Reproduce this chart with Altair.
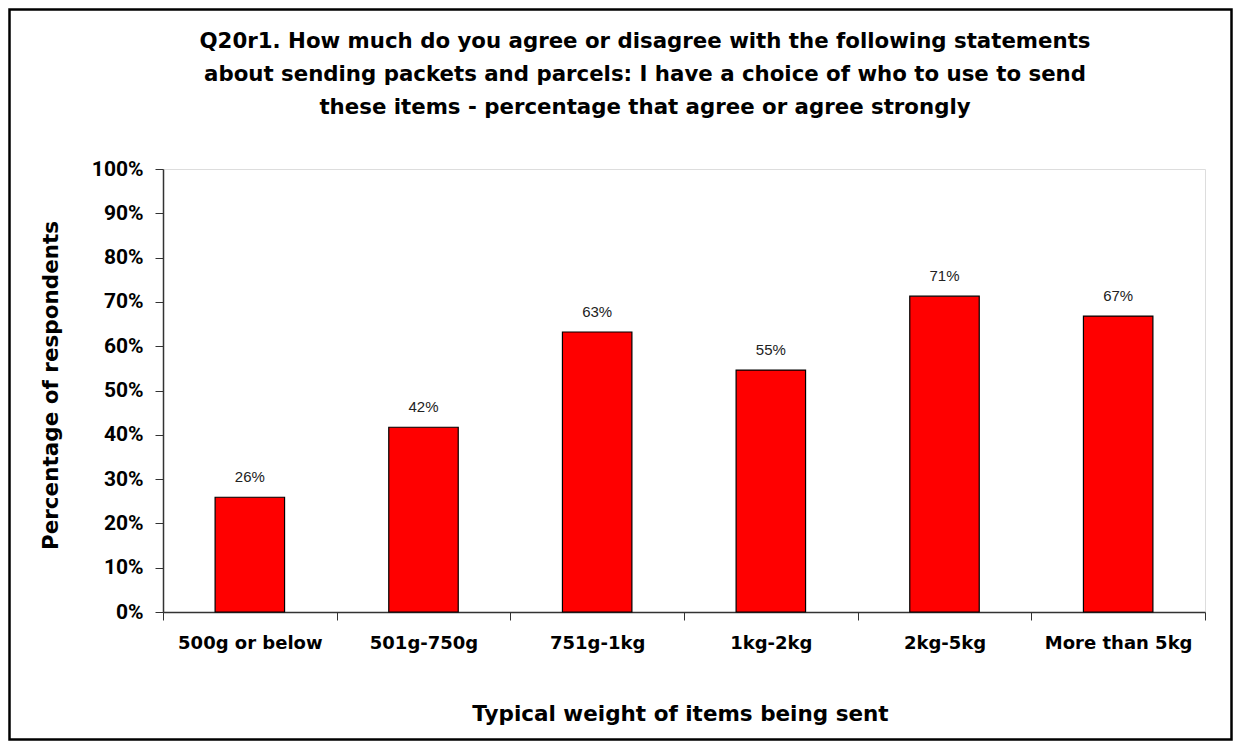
import altair as alt
import pandas as pd

categories = ["500g or below", "501g-750g", "751g-1kg", "1kg-2kg", "2kg-5kg", "More than 5kg"]
values = [0.259, 0.417, 0.632, 0.546, 0.713, 0.668]

df = pd.DataFrame({"cat": categories, "val": values})

W, H = 1042, 443
PL, PT, PR, PB = 155, 161, 28, 129
BOLD = "DejaVu Sans"

base = alt.Chart(df)

x_enc = alt.X(
    "cat:N", sort=categories, scale=alt.Scale(paddingInner=0, paddingOuter=0),
    axis=alt.Axis(
        title="Typical weight of items being sent", labelAngle=0,
        labelFont=BOLD, labelFontWeight="bold", labelFontSize=18, labelColor="#000",
        labelPadding=14, tickBand="extent", tickSize=8, tickColor="#333",
        domainColor="#333", domainWidth=1.5,
        titleFont=BOLD, titleFontWeight="bold", titleFontSize=21.5, titleColor="#000",
        titleX=517, titleAlign="center", titleY=102, titleBaseline="middle",
    ),
)
y_enc = alt.Y(
    "val:Q", scale=alt.Scale(domain=[0, 1]),
    axis=alt.Axis(
        title="Percentage of respondents", format=".0%", values=[i / 10 for i in range(11)],
        labelFont="Roboto", labelFontWeight="bold", labelFontSize=21, labelColor="#000",
        labelPadding=12, tickSize=8, tickColor="#333", grid=False,
        domainColor="#333", domainWidth=1.5,
        titleFont=BOLD, titleFontWeight="bold", titleFontSize=21.5, titleColor="#000",
        titleX=-112, titleY=216, titleBaseline="middle", titleAngle=-90,
    ),
)

bars = base.mark_bar(
    width=alt.RelativeBandSize(0.4), color="#FF0000", stroke="#000", strokeWidth=1.2
).encode(x=x_enc, y=y_enc)

labels = base.mark_text(
    dy=-12, font="Liberation Sans", fontSize=15, color="#222", baseline="bottom"
).encode(
    x=alt.X("cat:N", sort=categories),
    y="val:Q",
    text=alt.Text("val:Q", format=".0%"),
)

frame = alt.Chart(alt.Data(values=[{}])).mark_rect(
    fill=None, stroke="#000", strokeWidth=2.5, clip=False
).encode(
    x=alt.value(-PL + 1.5), x2=alt.value(W + PR - 1.5),
    y=alt.value(-PT + 1.5), y2=alt.value(H + PB - 1.5),
)

chart = alt.layer(bars, labels, frame).properties(
    width=W, height=H,
    autosize=alt.AutoSizeParams(type="none"),
    padding={"left": PL, "top": PT, "right": PR, "bottom": PB},
    title=alt.Title(
        text=[
            "Q20r1. How much do you agree or disagree with the following statements",
            "about sending packets and parcels: I have a choice of who to use to send",
            "these items - percentage that agree or agree strongly",
        ],
        font=BOLD, fontWeight="bold", fontSize=21.3, color="#000",
        anchor="middle", dx=-39, lineHeight=33, offset=-110, frame="group",
    ),
).configure_view(stroke="#999", strokeWidth=1.5).configure(background="white")

chart.save("out.html", embed_options={"renderer": "svg", "actions": False})
